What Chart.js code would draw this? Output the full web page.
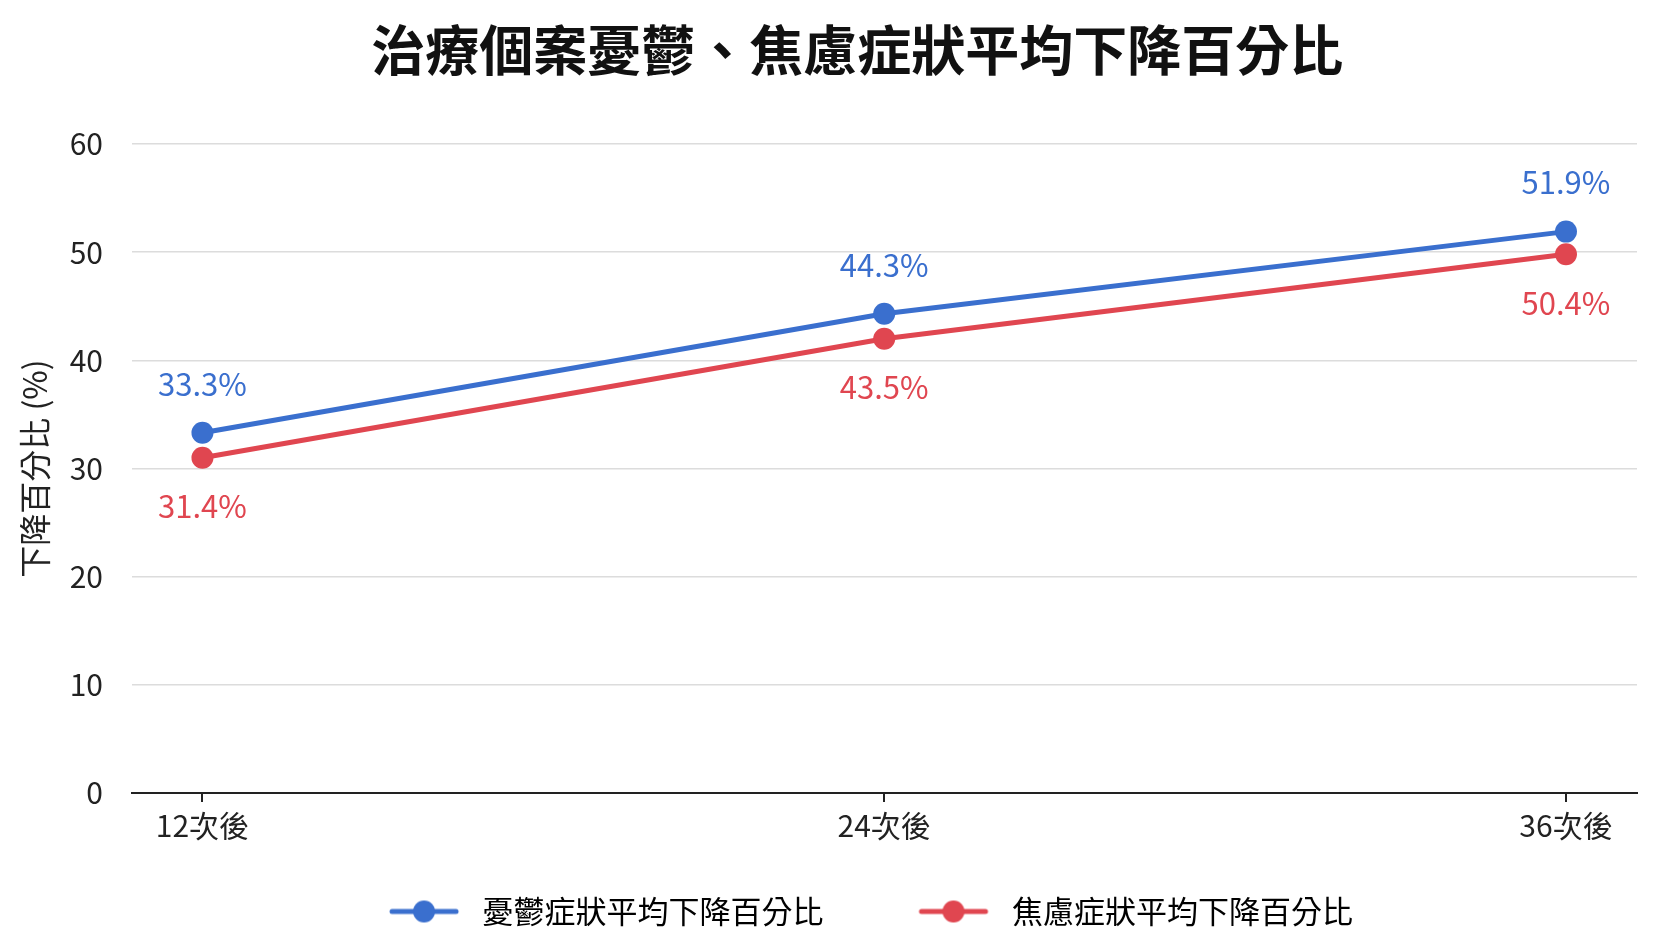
<!DOCTYPE html>
<html lang="zh-Hant">
<head>
<meta charset="utf-8">
<title>治療個案憂鬱、焦慮症狀平均下降百分比</title>
<script src="https://cdn.jsdelivr.net/npm/chart.js@4.4.1/dist/chart.umd.min.js"></script>
<style>
  html, body { margin: 0; padding: 0; background: #fff; }
  #wrap { width: 1660px; height: 947px; position: relative; }
</style>
</head>
<body>
<div id="wrap"><canvas id="myChart"></canvas></div>
<script>
// Datos
const chartTitle = '治療個案憂鬱、焦慮症狀平均下降百分比'
const sessions = [12, 24, 36]
const sessionLabels = ['12次後', '24次後', '36次後']
const depressionValues = [33.3, 44.3, 51.9]
const anxietyValues = [31.0, 42.0, 49.8]
const depressionLabels = ['33.3%', '44.3%', '51.9%']
const anxietyLabels = ['31.4%', '43.5%', '50.4%']
const yTicks = [0, 10, 20, 30, 40, 50, 60]

const FONT = "'Noto Sans CJK TC', 'Noto Sans', sans-serif"
const BLUE = 'rgb(58, 111, 206)'
const RED = 'rgb(224, 70, 80)'

// Icono de leyenda: línea con punto (a la derecha de la caja)
const legendIcon = (color) => {
  const c = document.createElement('canvas')
  c.width = 171
  c.height = 26
  const g = c.getContext('2d')
  g.strokeStyle = color
  g.lineWidth = 5
  g.lineCap = 'round'
  g.beginPath()
  g.moveTo(96, 13)
  g.lineTo(160, 13)
  g.stroke()
  g.fillStyle = color
  g.beginPath()
  g.arc(128, 13, 11, 0, Math.PI * 2)
  g.fill()
  return c
}

// Título centrado un poco a la derecha (entre el canvas y el área del gráfico)
const titlePlugin = {
  id: 'titlePlugin',
  afterDraw(chart) {
    const { ctx, chartArea } = chart
    const cx = (chart.width / 2 + (chartArea.left + chartArea.right) / 2) / 2
    ctx.save()
    ctx.font = `bold 54px ${FONT}`
    ctx.fillStyle = '#111'
    ctx.textAlign = 'center'
    ctx.textBaseline = 'middle'
    ctx.fillText(chartTitle, cx, 50)
    ctx.restore()
  },
}

// Etiquetas de valores sobre / debajo de los puntos
const valueLabels = {
  id: 'valueLabels',
  afterDatasetsDraw(chart) {
    const ctx = chart.ctx
    ctx.save()
    ctx.font = `31px ${FONT}`
    ctx.textAlign = 'center'
    ctx.textBaseline = 'middle'
    chart.data.datasets.forEach((ds, i) => {
      const meta = chart.getDatasetMeta(i)
      meta.data.forEach((pt, j) => {
        ctx.fillStyle = ds.borderColor
        const dy = ds.labelSide === 'above' ? -49 : 49
        ctx.fillText(ds.valueLabels[j], pt.x, pt.y + dy)
      })
    })
    ctx.restore()
  },
}

const data = {
  datasets: [
    {
      label: '憂鬱症狀平均下降百分比',
      data: sessions.map((s, i) => ({ x: s, y: depressionValues[i] })),
      valueLabels: depressionLabels,
      labelSide: 'above',
      legendIcon: legendIcon(BLUE),
      borderColor: BLUE,
      backgroundColor: BLUE,
      pointBackgroundColor: BLUE,
      borderWidth: 5,
      pointRadius: 11,
      pointBorderWidth: 0,
      tension: 0,
    },
    {
      label: '焦慮症狀平均下降百分比',
      data: sessions.map((s, i) => ({ x: s, y: anxietyValues[i] })),
      valueLabels: anxietyLabels,
      labelSide: 'below',
      legendIcon: legendIcon(RED),
      borderColor: RED,
      backgroundColor: RED,
      pointBackgroundColor: RED,
      borderWidth: 5,
      pointRadius: 11,
      pointBorderWidth: 0,
      tension: 0,
    },
  ],
}

const options = {
  responsive: true,
  maintainAspectRatio: false,
  animation: false,
  layout: { padding: { top: 144, left: 12, right: 23, bottom: 10 } },
  plugins: {
    title: { display: false },
    legend: {
      display: true,
      position: 'bottom',
      labels: {
        usePointStyle: true,
        pointStyleWidth: 171,
        padding: 2,
        color: '#222',
        font: { family: FONT, size: 31 },
        generateLabels: (chart) =>
          chart.data.datasets.map((ds, i) => ({
            text: ds.label,
            pointStyle: ds.legendIcon,
            fillStyle: ds.borderColor,
            strokeStyle: ds.borderColor,
            lineWidth: 0,
            hidden: !chart.isDatasetVisible(i),
            datasetIndex: i,
          })),
      },
    },
    tooltip: { enabled: false },
  },
  scales: {
    x: {
      type: 'linear',
      min: 10.76,
      max: 37.25,
      afterBuildTicks: (scale) => {
        scale.ticks = sessions.map((v) => ({ value: v }))
      },
      afterFit: (scale) => {
        scale.height = 101
      },
      ticks: {
        color: '#222',
        padding: 6,
        font: { family: FONT, size: 30 },
        callback: (value) => sessionLabels[sessions.indexOf(value)],
        maxRotation: 0,
      },
      grid: {
        drawOnChartArea: false,
        drawTicks: true,
        tickLength: 9,
        color: '#222',
        lineWidth: 2,
      },
      border: { display: true, color: '#222', width: 2 },
    },
    y: {
      min: 0,
      max: 60,
      afterBuildTicks: (scale) => {
        scale.ticks = yTicks.map((v) => ({ value: v }))
      },
      afterFit: (scale) => {
        scale.width = 120
      },
      ticks: {
        color: '#222',
        padding: 29,
        font: { family: FONT, size: 30 },
      },
      grid: {
        drawTicks: false,
        color: '#dcdcdc',
        lineWidth: 1.5,
      },
      border: { display: false },
      title: {
        display: true,
        text: '下降百分比 (%)',
        color: '#222',
        font: { family: FONT, size: 32 },
        padding: { top: 4, bottom: 0 },
      },
    },
  },
}

const ctx = document.getElementById('myChart').getContext('2d')
const myChart = new Chart(ctx, {
  type: 'line',
  data: data,
  options: options,
  plugins: [valueLabels, titlePlugin],
})
</script>
</body>
</html>
